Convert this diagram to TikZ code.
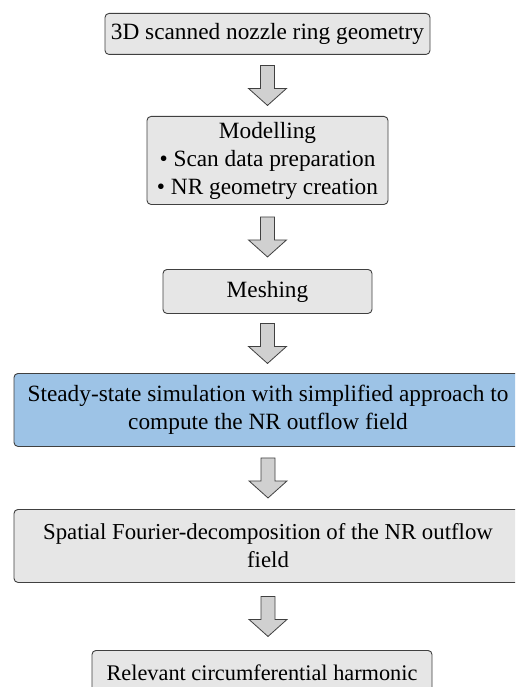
\documentclass[tikz,border=0pt]{standalone}
\usepackage{fontspec}
\setmainfont{Liberation Serif}
\usetikzlibrary{calc}
\definecolor{boxgray}{HTML}{E6E6E6}
\definecolor{boxblue}{HTML}{9DC3E6}
\definecolor{edgegray}{HTML}{404040}
\definecolor{arrowgray}{HTML}{D0D0D0}
\tikzset{
  stage/.style={draw=edgegray, line width=0.9pt, fill=boxgray, rounded corners=4pt,
    anchor=north, align=center, inner sep=4pt,
    font=\fontsize{23.3}{28}\selectfont},
  blockarrow/.style={draw=edgegray, line width=0.8pt, fill=arrowgray, line join=miter},
}
\newcommand\flowarrow[2]{%
  \coordinate (m#1#2) at ($(#1.south)!0.5!(#2.north)$);
  \begin{scope}[shift={(#1.south |- m#1#2)}]
    \draw[blockarrow] (-7,-20) -- (7,-20) -- (7,3) -- (19,3) -- (0,20) -- (-19,3) -- (-7,3) -- cycle;
  \end{scope}}
\begin{document}
\begin{tikzpicture}[x=1pt,y=-1pt]
\useasboundingbox (0,0) rectangle (515,687);
\clip (0,0) rectangle (515,687);
\fill[white] (0,0) rectangle (515,687);

\node[stage, minimum width=325pt, minimum height=41pt] (scan) at (267.5,13)
  {3D scanned nozzle ring geometry};
\node[stage, minimum width=241pt, minimum height=88pt] (model) at (267.5,116)
  {Modelling\\ \textbullet{} Scan data preparation\\ \textbullet{} NR geometry creation};
\node[stage, minimum width=209pt, minimum height=44pt] (mesh) at (267.5,269)
  {Meshing};
\node[stage, fill=boxblue, minimum width=508pt, minimum height=73pt] (sim) at (268,373)
  {Steady-state simulation with simplified approach to\\ compute the NR outflow field};
\node[stage, minimum width=508pt, minimum height=73pt, font=\fontsize{22.8}{28}\selectfont] (fourier) at (268,509)
  {Spatial Fourier-decomposition of the NR outflow\\ field};
\node[stage, minimum width=340pt, minimum height=45pt, font=\fontsize{22.3}{27}\selectfont] (harm) at (262,650)
  {Relevant circumferential harmonic};

\flowarrow{scan}{model}
\flowarrow{model}{mesh}
\flowarrow{mesh}{sim}
\flowarrow{sim}{fourier}
\flowarrow{fourier}{harm}
\end{tikzpicture}
\end{document}
